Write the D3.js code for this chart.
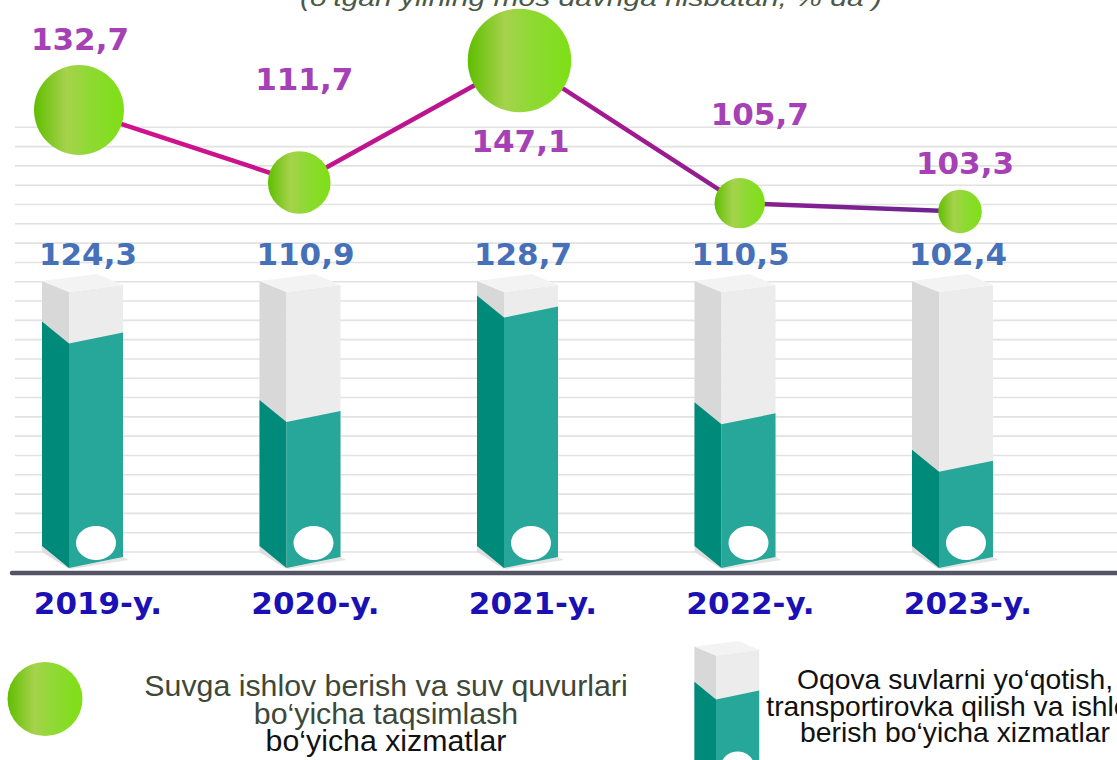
<!DOCTYPE html>
<html>
<head>
<meta charset="utf-8">
<script src="https://cdn.jsdelivr.net/npm/d3@7/dist/d3.min.js"></script>
<style>
  html, body { margin: 0; padding: 0; background: #fff; overflow: hidden; }
</style>
</head>
<body>
<div id="chart"></div>
<script>
// data
var years = ["2019-y.", "2020-y.", "2021-y.", "2022-y.", "2023-y."];
// oqova suvlar xizmatlari (ustunlar)
var barValues = [124.3, 110.9, 128.7, 110.5, 102.4];
// suv quvurlari xizmatlari (doiralar va chiziq)
var lineValues = [132.7, 111.7, 147.1, 105.7, 103.3];

var subtitle = "(o‘tgan yilning mos davriga nisbatan, % da )";
var legendLeft = ["Suvga ishlov berish va suv quvurlari", "bo‘yicha taqsimlash", "bo‘yicha xizmatlar"];
var legendRight = ["Oqova suvlarni yo‘qotish,", "transportirovka qilish va ishlov", "berish bo‘yicha xizmatlar"];

// label nudges for the line values [dx, dy] from circle centre
var lineLabelShift = [[1, -60], [5, -92], [1, 92], [20, -78], [5, -37]];

var W = 1117, H = 760;
var numFmt = function (v) { return d3.format(".1f")(v).replace(".", ","); };

const svg = d3.select("#chart")
  .append("svg")
  .attr("width", W)
  .attr("height", H)
  .style("display", "block");

var defs = svg.append("defs");

// green ball gradient
var gg = defs.append("linearGradient").attr("id", "ball")
  .attr("x1", 0).attr("x2", 1).attr("y1", 0).attr("y2", 0);
gg.append("stop").attr("offset", 0).attr("stop-color", "#5fbe00");
gg.append("stop").attr("offset", 0.36).attr("stop-color", "#a6d24c");
gg.append("stop").attr("offset", 0.6).attr("stop-color", "#8fd935");
gg.append("stop").attr("offset", 1).attr("stop-color", "#7ee015");

// scales
var x = d3.scalePoint().domain(years).range([98, 968]);
var lineX = d3.scalePoint().domain(years).range([79, 960]);
var lineY = d3.scaleLinear().domain([100, 150]).range([222.8, 50.4]);
var radius = d3.scaleSqrt().domain([0, 50]).range([11, 53]); // on (value - 100)
var fillH = d3.scaleLinear().domain([86, 130]).range([0, 258]);
var gridY = d3.scaleLinear().domain([0, 22]).range([552, 127.3]);

// line gradient
var lg = defs.append("linearGradient").attr("id", "lineGrad")
  .attr("gradientUnits", "userSpaceOnUse")
  .attr("x1", lineX.range()[0]).attr("x2", lineX.range()[1])
  .attr("y1", 0).attr("y2", 0);
lg.append("stop").attr("offset", 0).attr("stop-color", "#d5108c");
lg.append("stop").attr("offset", 0.45).attr("stop-color", "#b8168f");
lg.append("stop").attr("offset", 1).attr("stop-color", "#6a2492");

// subtitle (cut at the top edge)
svg.append("text")
  .attr("x", 591).attr("y", 6)
  .attr("text-anchor", "middle")
  .attr("font-family", "'Liberation Sans', Arial, sans-serif")
  .attr("font-style", "italic")
  .attr("font-size", 24)
  .attr("fill", "#4c5948")
  .attr("textLength", 582)
  .attr("lengthAdjust", "spacingAndGlyphs")
  .text(subtitle);

// grid lines
svg.append("g").selectAll("line")
  .data(d3.range(23))
  .enter().append("line")
  .attr("x1", 15).attr("x2", W)
  .attr("y1", d => gridY(d)).attr("y2", d => gridY(d))
  .attr("stroke", "#e2e2e2")
  .attr("stroke-width", 1.6);

// 3D box, (fx, fy) = front-left bottom corner
function drawBox(g, fx, fy, s, boxH, h) {
  var p = function (pts) {
    return pts.map(d => (fx + d[0] * s) + "," + (fy + d[1] * s)).join(" ");
  };
  // shadow wedge
  g.append("polygon").attr("points", p([[-27, -22], [-27, -16], [0, 1], [0, 0]])).attr("fill", "#dedede");
  g.append("polygon").attr("points", p([[54, -11], [60, -8], [2, 1], [0, 0]])).attr("fill", "#e4e4e4");
  // grey shell
  g.append("polygon").attr("points", p([[-27, -22], [0, 0], [0, -boxH], [-27, -boxH - 11]])).attr("fill", "#d8d8d8");
  g.append("polygon").attr("points", p([[0, 0], [54, -11], [54, -boxH - 7], [0, -boxH]])).attr("fill", "#ececec");
  g.append("polygon").attr("points", p([[-27, -boxH - 11], [28, -boxH - 18], [54, -boxH - 7], [0, -boxH]])).attr("fill", "#f3f3f3");
  // teal fill
  g.append("polygon").attr("points", p([[-27, -22], [0, 0], [0, -h], [-27, -22 - h]])).attr("fill", "#008a7a");
  g.append("polygon").attr("points", p([[0, 0], [54, -11], [54, -11 - h], [0, -h]])).attr("fill", "#27a69a");
  // white hole
  g.append("ellipse")
    .attr("cx", fx + 27 * s).attr("cy", fy - 25 * s)
    .attr("rx", 20 * s).attr("ry", 17 * s)
    .attr("fill", "#fff");
}

// bars
var bars = svg.append("g");
years.forEach(function (yr, i) {
  drawBox(bars, x(yr) - 29, 568, 1, 276, fillH(barValues[i]));
});

// bar labels
svg.append("g").selectAll("text")
  .data(barValues)
  .enter().append("text")
  .attr("x", (d, i) => x(years[i]) - 10)
  .attr("y", 265)
  .attr("text-anchor", "middle")
  .attr("font-family", "'DejaVu Sans', Verdana, sans-serif")
  .attr("font-weight", "bold")
  .attr("font-size", 31)
  .attr("fill", "#4670b8")
  .text(d => numFmt(d));

// axis
svg.append("line")
  .attr("x1", 12).attr("x2", W + 10)
  .attr("y1", 573).attr("y2", 573)
  .attr("stroke", "#545466")
  .attr("stroke-width", 4.5)
  .attr("stroke-linecap", "round");

// year labels
svg.append("g").selectAll("text")
  .data(years)
  .enter().append("text")
  .attr("x", d => x(d))
  .attr("y", 614)
  .attr("text-anchor", "middle")
  .attr("font-family", "'DejaVu Sans', Verdana, sans-serif")
  .attr("font-weight", "bold")
  .attr("font-size", 31)
  .attr("fill", "#1b10b4")
  .text(d => d);

// line
var line = d3.line()
  .x((d, i) => lineX(years[i]))
  .y(d => lineY(d));

svg.append("path")
  .datum(lineValues)
  .attr("d", line)
  .attr("fill", "none")
  .attr("stroke", "url(#lineGrad)")
  .attr("stroke-width", 4.5);

// balls
svg.append("g").selectAll("circle")
  .data(lineValues)
  .enter().append("circle")
  .attr("cx", (d, i) => lineX(years[i]))
  .attr("cy", d => lineY(d))
  .attr("r", d => radius(d - 100))
  .attr("fill", "url(#ball)");

// line labels
svg.append("g").selectAll("text")
  .data(lineValues)
  .enter().append("text")
  .attr("x", (d, i) => lineX(years[i]) + lineLabelShift[i][0])
  .attr("y", (d, i) => lineY(d) + lineLabelShift[i][1])
  .attr("text-anchor", "middle")
  .attr("font-family", "'DejaVu Sans', Verdana, sans-serif")
  .attr("font-weight", "bold")
  .attr("font-size", 31)
  .attr("fill", "#a540b5")
  .text(d => numFmt(d));

// legend left
svg.append("ellipse")
  .attr("cx", 45).attr("cy", 699)
  .attr("rx", 37.5).attr("ry", 37)
  .attr("fill", "url(#ball)");

svg.append("g").selectAll("text")
  .data(legendLeft)
  .enter().append("text")
  .attr("x", 386)
  .attr("y", (d, i) => 696 + i * 27.5)
  .attr("text-anchor", "middle")
  .attr("font-family", "'Liberation Sans', Arial, sans-serif")
  .attr("font-size", 30.3)
  .attr("fill", (d, i) => i < 2 ? "#3d4839" : "#111")
  .text(d => d);

// legend right
var lgBox = svg.append("g");
drawBox(lgBox, 716, 785, 0.8, 162, 107);

svg.append("g").selectAll("text")
  .data(legendRight)
  .enter().append("text")
  .attr("x", 955)
  .attr("y", (d, i) => 689 + i * 26.5)
  .attr("text-anchor", "middle")
  .attr("font-family", "'Liberation Sans', Arial, sans-serif")
  .attr("font-size", 28.3)
  .attr("fill", "#111")
  .text(d => d);
</script>
</body>
</html>
